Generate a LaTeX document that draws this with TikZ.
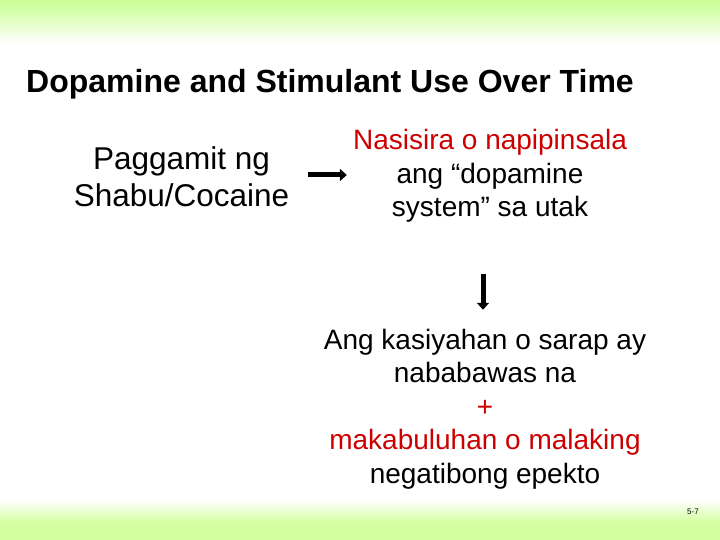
\documentclass[tikz,border=0pt]{standalone}
\usepackage{fontspec}
\setmainfont{Liberation Sans}
\usetikzlibrary{arrows.meta}
\definecolor{topgreen}{RGB}{204,255,153}
\definecolor{botgreen}{RGB}{212,255,160}
\definecolor{txtred}{RGB}{204,0,0}
\tikzset{
  body/.style={inner sep=0pt, align=center, font=\fontsize{28}{33.5}\selectfont},
  bigarrow/.style={line width=5pt, -{Triangle[length=7pt,width=12pt]}},
}
\begin{document}
\begin{tikzpicture}[x=1pt,y=-1pt]
\useasboundingbox (0,0) rectangle (720,540);
\fill[white] (0,0) rectangle (720,540);
\shade[top color=topgreen, bottom color=white] (0,4) rectangle (720,44);
\fill[topgreen] (0,0) rectangle (720,4);
\shade[top color=white, bottom color=botgreen] (0,500) rectangle (720,522);
\fill[botgreen] (0,522) rectangle (720,540);

\node[anchor=west, inner sep=0pt, font=\fontsize{32}{38}\selectfont\bfseries] (title) at (26,84) {Dopamine and Stimulant Use Over Time};

\node[body, font=\fontsize{31.5}{37}\selectfont] (left) at (181.5,177) {Paggamit ng\\Shabu/Cocaine};

\node[body] (top) at (490,176) {\textcolor{txtred}{Nasisira o napipinsala}\\ang “dopamine\\system” sa utak};

\node[body] (bot) at (485,409) {Ang kasiyahan o sarap ay\\nababawas na\\\textcolor{txtred}{+}\\\textcolor{txtred}{makabuluhan o malaking}\\negatibong epekto};

\draw[bigarrow, shorten <=19pt, shorten >=6pt] (left.east |- 0,175) -- (top.west |- 0,175);
\draw[bigarrow, shorten <=51pt, shorten >=19pt] (top.south -| 483,0) -- (bot.north -| 483,0);

\node[anchor=east, inner sep=0pt, font=\fontsize{8}{9}\selectfont] (pg) at (699,512) {5-7};
\end{tikzpicture}
\end{document}
